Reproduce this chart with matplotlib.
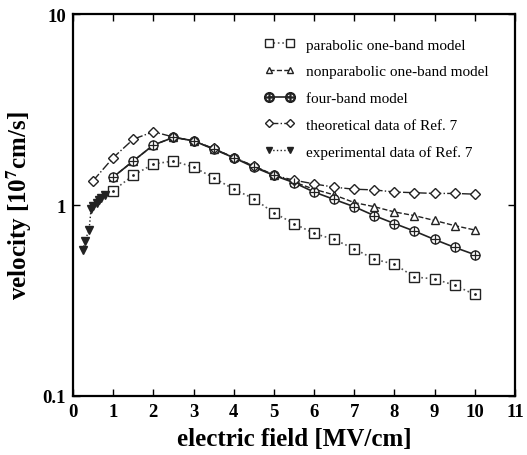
import matplotlib
matplotlib.use("Agg")
import matplotlib.pyplot as plt
from matplotlib.lines import Line2D

plt.rcParams['font.family'] = ['Liberation Serif', 'DejaVu Serif']
plt.rcParams['mathtext.fontset'] = 'stix'

# data
field = [1.0, 1.5, 2.0, 2.5, 3.0, 3.5, 4.0, 4.5, 5.0, 5.5, 6.0, 6.5, 7.0, 7.5, 8.0, 8.5, 9.0, 9.5, 10.0]
parabolic = [1.19, 1.43, 1.64, 1.70, 1.58, 1.39, 1.21, 1.08, 0.91, 0.80, 0.71, 0.66, 0.59, 0.52, 0.49, 0.42, 0.41, 0.38, 0.34]
nonparabolic = [1.40, 1.70, 2.06, 2.26, 2.17, 1.97, 1.78, 1.60, 1.44, 1.32, 1.21, 1.13, 1.03, 0.98, 0.92, 0.88, 0.83, 0.78, 0.74]
fourband = [1.40, 1.70, 2.06, 2.26, 2.17, 1.96, 1.77, 1.58, 1.43, 1.31, 1.17, 1.07, 0.98, 0.88, 0.80, 0.73, 0.66, 0.60, 0.55]
theo_field = [0.5, 1.0, 1.5, 2.0, 2.5, 3.0, 3.5, 4.0, 4.5, 5.0, 5.5, 6.0, 6.5, 7.0, 7.5, 8.0, 8.5, 9.0, 9.5, 10.0]
theoretical = [1.34, 1.77, 2.21, 2.42, 2.27, 2.17, 1.98, 1.77, 1.60, 1.43, 1.35, 1.29, 1.24, 1.21, 1.20, 1.17, 1.16, 1.15, 1.15, 1.14]
exp_field = [0.25, 0.3, 0.4, 0.45, 0.5, 0.6, 0.65, 0.7, 0.8]
experimental = [0.58, 0.65, 0.74, 0.95, 0.99, 1.03, 1.06, 1.09, 1.13]

labels = ["parabolic one-band model", "nonparabolic one-band model", "four-band model",
          "theoretical data of Ref. 7", "experimental data of Ref. 7"]

fig = plt.figure(figsize=(5.27, 4.56), dpi=100)
ax = fig.add_axes([0.1385, 0.1294, 0.977 - 0.1385, 0.967 - 0.1294])

c = '#222222'
ax.plot(field, parabolic, linestyle=':', color='#555555', lw=1.2, marker='s', ms=6.5,
        mfc='white', mec=c, mew=1.0, zorder=3)
ax.plot(field, parabolic, linestyle='none', marker='.', ms=2, color=c, zorder=4)
ax.plot(field, nonparabolic, linestyle='--', color=c, lw=1.0, marker='^', ms=5.5,
        mfc='white', mec=c, mew=1.0, zorder=3)
ax.plot(field, fourband, linestyle='-', color=c, lw=1.2, marker='o', ms=6.5,
        mfc='white', mec=c, mew=1.0, zorder=3)
ax.plot(field, fourband, linestyle='none', marker='+', ms=6.5, color=c, mew=0.9, zorder=4)
ax.plot(theo_field, theoretical, linestyle='-.', color=c, lw=1.0, marker='D', ms=5,
        mfc='white', mec=c, mew=1.0, zorder=3)
ax.plot(exp_field, experimental, linestyle=':', color=c, lw=1.0, marker='v', ms=6,
        mfc=c, mec=c, zorder=3)

ax.set_yscale('log')
ax.set_xlim(0, 11)
ax.set_ylim(0.1, 10)
ax.set_xticks(range(0, 12))
ax.set_xticklabels([str(i) for i in range(0, 12)])
ax.set_yticks([0.1, 1, 10])
ax.set_yticklabels(['0.1', '1', '10'])
ax.yaxis.set_minor_locator(matplotlib.ticker.NullLocator())
ax.tick_params(direction='in', top=True, right=True, length=5, width=1.0,
               labelsize=13.5, pad=5)
for lab in ax.get_xticklabels() + ax.get_yticklabels():
    lab.set_fontweight('bold')
for sp in ax.spines.values():
    sp.set_linewidth(1.6)

ax.set_xlabel('electric field [MV/cm]', fontsize=18, fontweight='bold', labelpad=5)
ax.set_ylabel(r'velocity [10$^{\mathbf{7}}$cm/s]', fontsize=18, fontweight='bold', labelpad=6)

# legend handles
h1 = Line2D([], [], linestyle=':', color='#555555', lw=1.2, marker='s', ms=6, mfc='white', mec=c)
h2 = Line2D([], [], linestyle='--', color=c, lw=1.0, marker='^', ms=5, mfc='white', mec=c)
h3 = Line2D([], [], linestyle='-', color=c, lw=1.2, marker='$\\oplus$', ms=7, mfc=c, mec=c)
h4 = Line2D([], [], linestyle='-.', color=c, lw=1.0, marker='D', ms=4.5, mfc='white', mec=c)
h5 = Line2D([], [], linestyle=':', color=c, lw=1.0, marker='v', ms=5, mfc=c, mec=c)
ax.legend([h1, h2, h3, h4, h5], labels, loc='upper right', frameon=False, numpoints=2,
          fontsize=11, handlelength=2.0, labelspacing=0.85, handletextpad=0.7,
          borderaxespad=0, borderpad=0, bbox_to_anchor=(0.94, 0.937))

fig.savefig('out.png', dpi=100)
